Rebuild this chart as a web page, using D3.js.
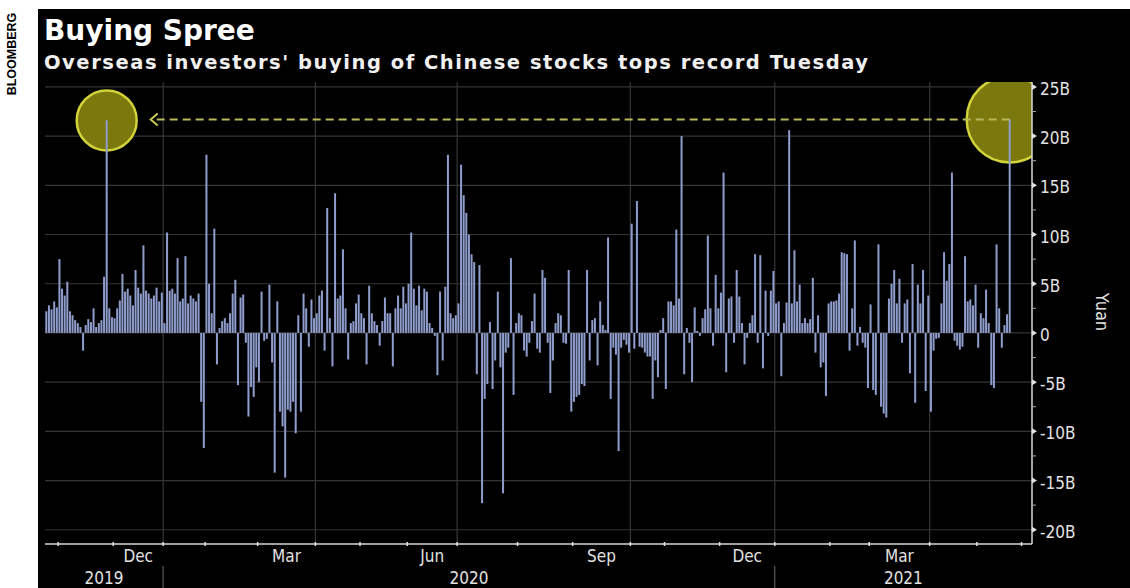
<!DOCTYPE html>
<html>
<head>
<meta charset="utf-8">
<script src="https://cdn.jsdelivr.net/npm/d3@7"></script>
<style>
  html, body { margin: 0; padding: 0; background: #fff; }
  svg { display: block; }
</style>
</head>
<body>
<svg id="chart" width="1130" height="588"></svg>
<script>
// net northbound buying per trading day, billions of yuan, one array per month
const oct19 = [2.2, 2.8, 2.4, 3.2, 2.6];
const nov19 = [7.5, 4.5, 3.8, 5.2, 2.2, 1.8, 1.3, 1.0, 0.6, -1.8, 0.8, 1.4, 1.1, 2.5, 0.6, 1.0, 1.3, 5.7, 21.6, 2.5, 1.6];
const dec19 = [1.5, 2.5, 3.3, 6.0, 4.2, 4.5, 3.8, 2.8, 6.4, 4.6, 4.0, 8.9, 4.3, 4.0, 3.5, 3.8, 4.6, 3.2, 4.1];
const jan20 = [1.0, 10.2, 4.3, 4.5, 4.0, 7.6, 3.2, 3.5, 7.8, 3.0, 3.8, 3.5, 3.2, 4.0, -7.0, -11.7];
const feb20 = [18.1, 5.0, 2.0, 10.6, -3.2, 0.5, 1.2, 1.5, 1.0, 2.0, 4.0, 5.4, -5.3, 3.6, 3.9, -1.0, -8.5, -5.5, -6.5, -3.5];
const mar20 = [-5.0, 4.2, -0.8, -0.6, 4.9, -3.0, -14.2, 3.2, -8.0, -9.5, -14.7, -7.8, -8.0, -7.0, -10.2, 1.8, -8.0, 4.0, 2.5, -1.4, 3.4, 1.5];
const apr20 = [2.0, 3.8, 4.3, -1.8, 12.7, 1.5, -3.4, 14.2, 3.5, 3.8, 8.5, 2.5, -2.7, 1.0, 1.2, 3.0, 3.9];
const may20 = [2.0, 1.5, -3.2, 4.8, 2.0, 1.2, 0.8, -1.3, 1.2, 3.6, 2.0, 2.0, -3.4, 2.5, 3.8, 2.5, 4.7, 3.0];
const jun20 = [5.0, 10.2, 4.5, 2.8, 4.8, 2.3, 4.5, 4.2, 1.0, 0.5, -0.3, -4.3, 4.2, -2.8, 4.7, 18.1, 2.0, 1.5, 1.8];
const jul20 = [3.0, 17.1, 14.0, 12.2, 10.0, 8.0, 7.2, -4.2, 6.9, -17.3, -6.7, -5.2, 1.1, -5.7, -2.8, 4.2, -3.5, -16.3, -2.0, -1.5, 7.6, -6.3, 1.0];
const aug20 = [2.0, 1.8, -1.8, -2.4, -1.0, 1.2, 4.0, -1.6, -2.0, 6.4, 5.6, -1.0, -6.1, -2.8, 1.0, 2.0, 1.8, -1.0, -1.1, 6.4, -8.0];
const sep20 = [-7.0, -6.5, -6.3, -5.2, -5.4, 6.4, -2.8, 1.3, 1.5, -3.3, 3.2, 0.8, 0.3, 9.7, -6.7, -1.5, -2.2, -12.0, -1.5, -0.7, -1.2, -2.0];
const oct20 = [11.1, -1.6, 13.4, -1.4, -1.5, -2.0, -2.4, -2.4, -6.7, -2.8, -4.5, 0.3, 1.5];
const nov20 = [-5.7, 3.2, 3.2, 2.8, 10.5, 3.5, 20.0, -4.2, 0.5, -1.0, -5.0, 2.6, 0.2, -0.3, 1.5, 2.4, 9.9, 2.5, -1.3, 5.9, 2.5];
const dec20 = [4.1, 16.3, -4.0, 3.5, 3.7, -1.0, 6.4, 3.7, 1.0, -3.2, -0.5, 1.0, 1.8, 8.0, -1.0, 7.9, -3.6, 4.3, -0.3, 4.3, 6.3];
const jan21 = [3.0, 3.2, -4.4, 1.0, 3.1, 20.6, 3.0, 8.4, 3.2, 4.9, 1.0, 1.5, 1.0, 1.4, 5.6, -2.0, 1.8, -3.5, -3.0, -6.4, 3.0];
const feb21 = [3.2, 3.2, 3.3, 4.0, 8.2, 8.1, 8.0, -1.8, 2.5, 9.4, -1.3, 0.6, -1.0, -1.5, -5.6];
const mar21 = [2.9, -5.8, -6.3, 9.0, -7.5, -8.2, -8.6, 3.5, 5.0, 6.4, 3.0, 5.5, -1.0, 3.0, 3.4, -4.1, 7.0, -7.1, 4.9, 3.0, 6.4, -5.9, 3.8];
const apr21 = [-8.0, -1.8, -0.6, -0.5, 3.0, 8.2, 5.3, 7.0, 16.3, -0.8, -1.3, -1.7, -1.4, 7.8, 3.2, 3.4, 2.8, 4.9];
const may21 = [-1.5, 2.0, 1.5, 4.4, 1.0, -5.3, -5.6, 9.0, 2.5, -1.5, 0.8, 1.9, 21.7];

const monthSeries = [oct19, nov19, dec19, jan20, feb20, mar20, apr20, may20, jun20, jul20, aug20, sep20,
                     oct20, nov20, dec20, jan21, feb21, mar21, apr21, may21];
const monthNames = ["Oct", "Nov", "Dec", "Jan", "Feb", "Mar", "Apr", "May", "Jun", "Jul", "Aug", "Sep",
                    "Oct", "Nov", "Dec", "Jan", "Feb", "Mar", "Apr", "May"];
const monthYears = [2019, 2019, 2019, 2020, 2020, 2020, 2020, 2020, 2020, 2020, 2020, 2020,
                    2020, 2020, 2020, 2021, 2021, 2021, 2021, 2021];
const labelledMonths = ["Dec", "Mar", "Jun", "Sep"];
const gridMonths = ["Jan", "Apr", "Jul", "Oct"];
const yTicks = [-20, -15, -10, -5, 0, 5, 10, 15, 20, 25];

const title = "Buying Spree";
const subtitle = "Overseas investors' buying of Chinese stocks tops record Tuesday";

// ---------------------------------------------------------------
const svg = d3.select("#chart");
const W = 1130, H = 588;
const pLeft = 45, pRight = 1032, pTop = 82, pBottom = 544;
const condensed = "'DejaVu Sans Condensed', 'Liberation Sans Narrow', 'DejaVu Sans', sans-serif";

svg.append("rect").attr("width", W).attr("height", H).attr("fill", "#fff");
svg.append("rect").attr("x", 38).attr("y", 9).attr("width", W - 38).attr("height", H - 9).attr("fill", "#000");

svg.append("text")
  .attr("transform", "translate(16,54) rotate(-90)")
  .attr("text-anchor", "middle")
  .style("font", "bold 12.5px 'Liberation Sans', Arial, sans-serif")
  .attr("fill", "#000")
  .text("BLOOMBERG");

svg.append("text").attr("x", 44).attr("y", 40)
  .style("font", "bold 28px 'DejaVu Sans', sans-serif").attr("fill", "#fff").text(title);
svg.append("text").attr("x", 44).attr("y", 69)
  .attr("textLength", 824).attr("lengthAdjust", "spacing")
  .style("font", "bold 19.5px 'DejaVu Sans', sans-serif").attr("fill", "#f0f0f0").text(subtitle);

// flatten into trading days
const days = [];
const monthStart = [];
monthSeries.forEach((arr, mi) => {
  monthStart.push(days.length);
  arr.forEach(v => days.push({ v: v, mi: mi }));
});
const nDays = days.length;
const juneStart = nDays + 4; // next month tick after the last bar
const slots = nDays + 8;

const x = d3.scaleLinear().domain([0, slots]).range([pLeft, pRight]);
const y = d3.scaleLinear().domain([-21.45, 25.5]).range([pBottom, pTop]);

// grid
svg.append("g").selectAll("line").data(yTicks).join("line")
  .attr("x1", pLeft).attr("x2", pRight)
  .attr("y1", d => y(d)).attr("y2", d => y(d))
  .attr("stroke", "#353535").attr("stroke-width", 1.2);

const gridIdx = monthNames.map((m, i) => i).filter(i => gridMonths.includes(monthNames[i]) && i > 0);
svg.append("g").selectAll("line").data(gridIdx).join("line")
  .attr("x1", i => x(monthStart[i])).attr("x2", i => x(monthStart[i]))
  .attr("y1", pTop).attr("y2", pBottom)
  .attr("stroke", "#383838").attr("stroke-width", 1.2);

// highlight circles, clipped to plot area
svg.append("clipPath").attr("id", "plotclip")
  .append("rect").attr("x", pLeft).attr("y", pTop).attr("width", pRight - pLeft).attr("height", pBottom - pTop);

const firstPeak = monthStart[1] + nov19.indexOf(d3.max(nov19));
const lastPeak = nDays - 1;
const circles = [
  { i: firstPeak, r: 30 },
  { i: lastPeak, r: 43 }
];
svg.append("g").attr("clip-path", "url(#plotclip)")
  .selectAll("circle").data(circles).join("circle")
  .attr("cx", d => x(d.i + 0.5)).attr("cy", d => y(days[d.i].v)).attr("r", d => d.r)
  .attr("fill", "#7b790e").attr("stroke", "#d2d23a").attr("stroke-width", 2.5);

// bars
svg.append("g").selectAll("rect").data(days).join("rect")
  .attr("x", (d, i) => x(i + 0.5) - 1)
  .attr("width", 2)
  .attr("y", d => y(Math.max(0, d.v)))
  .attr("height", d => Math.abs(y(d.v) - y(0)))
  .attr("fill", "#8f9dcc");

// annotation: dashed line from the new record back to the 2019 record
const annY = y(days[lastPeak].v);
const arrowX = x(firstPeak + 0.5) + circles[0].r + 14;
svg.append("line")
  .attr("x1", x(lastPeak + 0.5)).attr("x2", arrowX + 2)
  .attr("y1", annY).attr("y2", annY)
  .attr("stroke", "#b9b95a").attr("stroke-width", 2).attr("stroke-dasharray", "8,5");
svg.append("path")
  .attr("d", `M${arrowX + 7},${annY - 6}L${arrowX},${annY}L${arrowX + 7},${annY + 6}`)
  .attr("fill", "none").attr("stroke", "#c8c850").attr("stroke-width", 2);

// right axis
svg.append("line").attr("x1", pRight).attr("x2", pRight).attr("y1", pTop).attr("y2", pBottom)
  .attr("stroke", "#d8d8d8").attr("stroke-width", 1.5);
svg.append("g").selectAll("path").data(yTicks).join("path")
  .attr("d", d => `M${pRight},${y(d) - 3}L${pRight + 5},${y(d)}L${pRight},${y(d) + 3}Z`)
  .attr("fill", "#e0e0e0");
const minor = yTicks.slice(0, -1).map(d => d + 2.5);
svg.append("g").selectAll("line").data(minor).join("line")
  .attr("x1", pRight).attr("x2", pRight + 4)
  .attr("y1", d => y(d)).attr("y2", d => y(d))
  .attr("stroke", "#aaa").attr("stroke-width", 1);
svg.append("g").selectAll("text").data(yTicks).join("text")
  .attr("x", pRight + 8).attr("y", d => y(d) + 3)
  .attr("dominant-baseline", "middle")
  .style("font", "17px " + condensed).attr("fill", "#e2e2e2")
  .text(d => d === 0 ? "0" : d + "B");

svg.append("text")
  .attr("transform", "translate(1096,312) rotate(90)")
  .attr("text-anchor", "middle")
  .style("font", "18px " + condensed).attr("fill", "#e2e2e2")
  .text("Yuan");

// bottom axis
svg.append("line").attr("x1", pLeft).attr("x2", pRight).attr("y1", pBottom).attr("y2", pBottom)
  .attr("stroke", "#d8d8d8").attr("stroke-width", 1.5);
const tickIdx = monthStart.slice(1).concat([juneStart]);
svg.append("g").selectAll("line").data(tickIdx).join("line")
  .attr("x1", d => x(d)).attr("x2", d => x(d))
  .attr("y1", pBottom - 2).attr("y2", pBottom + 2)
  .attr("stroke", "#e0e0e0").attr("stroke-width", 1.5);

const labIdx = monthNames.map((m, i) => i).filter(i => labelledMonths.includes(monthNames[i]));
svg.append("g").selectAll("text").data(labIdx).join("text")
  .attr("x", i => x(monthStart[i] + monthSeries[i].length / 2))
  .attr("y", 562)
  .attr("text-anchor", "middle")
  .style("font", "17px " + condensed).attr("fill", "#e2e2e2")
  .text(i => monthNames[i]);

const yearList = Array.from(new Set(monthYears));
const yearSpan = yearList.map(yr => {
  const idx = monthYears.map((v, i) => i).filter(i => monthYears[i] === yr);
  const s = monthStart[idx[0]];
  const e = idx[idx.length - 1] === monthSeries.length - 1 ? slots : monthStart[idx[idx.length - 1] + 1];
  return { yr: yr, s: s, e: e };
});
svg.append("g").selectAll("text").data(yearSpan).join("text")
  .attr("x", d => x((d.s + d.e) / 2)).attr("y", 584)
  .attr("text-anchor", "middle")
  .style("font", "17px " + condensed).attr("fill", "#e2e2e2")
  .text(d => d.yr);
svg.append("g").selectAll("line").data(yearSpan.slice(1)).join("line")
  .attr("x1", d => x(d.s)).attr("x2", d => x(d.s))
  .attr("y1", 566).attr("y2", 588)
  .attr("stroke", "#5a5a5a").attr("stroke-width", 1.2);
</script>
</body>
</html>
